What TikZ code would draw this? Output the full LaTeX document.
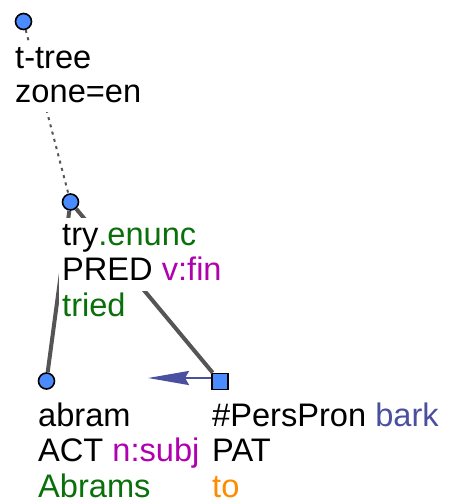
\documentclass[tikz,border=0pt]{standalone}
\usepackage{fontspec}
\setmainfont{Liberation Sans}
\usetikzlibrary{arrows.meta}
\definecolor{nodeblue}{HTML}{4A8CFF}
\definecolor{edgegray}{HTML}{555555}
\definecolor{funcgreen}{HTML}{0A700A}
\definecolor{tagmagenta}{HTML}{B000B0}
\definecolor{corefblue}{HTML}{4B4F9F}
\definecolor{formorange}{HTML}{FF8C00}

\begin{document}
\begin{tikzpicture}[
  x=1pt, y=-1pt,
  font=\fontsize{32.6}{35}\selectfont,
  tnode/.style={
    circle, draw=black, line width=1.6pt, fill=nodeblue,
    inner sep=0pt, minimum size=16pt
  },
  snode/.style={
    rectangle, draw=black, line width=1.6pt, fill=nodeblue,
    inner sep=0pt, minimum size=16pt
  },
  lbl/.style={
    fill=white, anchor=base west, inner xsep=3pt, inner ysep=2pt,
    text height=25pt, text depth=8pt
  },
  tedge/.style={draw=edgegray, line width=4pt},
  hidden/.style={draw=edgegray, line width=2pt, dash pattern=on 3pt off 4.5pt},
  coref/.style={
    draw=corefblue, line width=2.5pt,
    -{Stealth[length=41pt,width=14pt,inset=4pt]}
  }
]
\useasboundingbox (0,0) rectangle (451,504);

\node[tnode] (root) at (23.5,21.5) {};
\node[tnode] (try) at (70.5,202) {};
\node[tnode] (abram) at (46.5,381) {};
\node[snode] (perspron) at (220,381.5) {};
\coordinate (corefend) at (148,378);

\draw[hidden] (root) -- (try);
\draw[tedge] (try) -- (abram);
\draw[tedge] (try) -- (perspron);
\draw[coref] ([yshift=3.5pt]perspron.west) -- (corefend);

% labels
\node[lbl] (rootL1) at (12,68) {t-tree};
\node[lbl] (rootL2) at (12,102) {zone=en};

\node[lbl] (tryL1) at (59,245) {try\textcolor{funcgreen}{.enunc}};
\node[lbl] (tryL2) at (59,280.5) {PRED \textcolor{tagmagenta}{v:fin}};
\node[lbl] (tryL3) at (59,316) {\textcolor{funcgreen}{tried}};

\node[lbl] (abramL1) at (35,426) {abram};
\node[lbl] (abramL2) at (35,461) {ACT \textcolor{tagmagenta}{n:subj}};
\node[lbl] (abramL3) at (35,497) {\textcolor{funcgreen}{Abrams}};

\node[lbl] (persL1) at (209,426) {\#PersPron \textcolor{corefblue}{bark}};
\node[lbl] (persL2) at (209,461) {PAT};
\node[lbl] (persL3) at (209,497) {\textcolor{formorange}{to}};

\end{tikzpicture}
\end{document}
